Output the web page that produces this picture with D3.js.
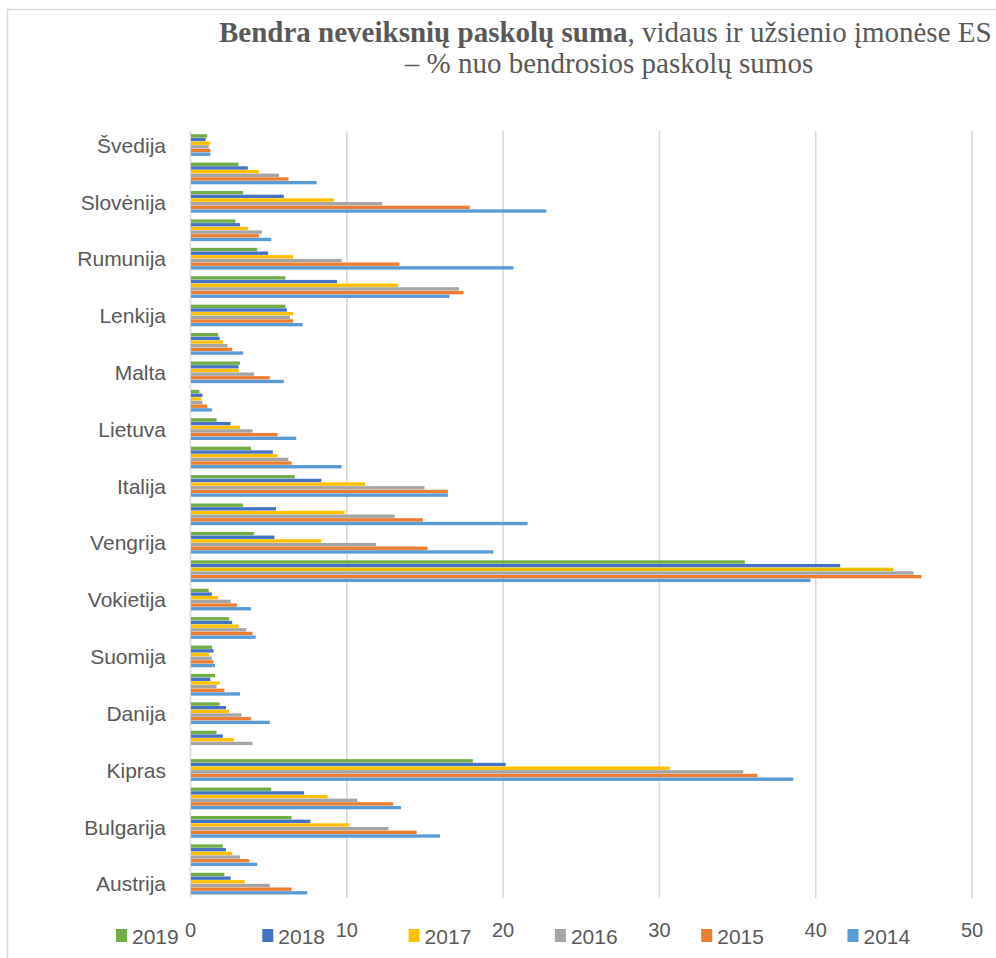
<!DOCTYPE html>
<html>
<head>
<meta charset="utf-8">
<script src="https://cdn.jsdelivr.net/npm/d3@7"></script>
<style>
  html, body { margin: 0; padding: 0; background: #ffffff; overflow: hidden; }
  svg { display: block; }
</style>
</head>
<body>
<svg id="chart" width="996" height="958"></svg>
<script>
// Countries, listed bottom to top
const countries = ["Austrija","Belgija","Bulgarija","Kroatija","Kipras","Čekija","Danija","Estija","Suomija","Prancūzija","Vokietija","Graikija","Vengrija","Airija","Italija","Latvija","Lietuva","Liuksemburgas","Malta","Nyderlandai","Lenkija","Portugalija","Rumunija","Slovakija","Slovėnija","Ispanija","Švedija"];

// Non-performing loans, % of total loans, per year
const y2019 = [2.2, 2.1, 6.5, 5.2, 18.1, 1.7, 1.9, 1.6, 1.4, 2.5, 1.2, 35.5, 4.1, 3.4, 6.7, 3.9, 1.7, 0.6, 3.2, 1.8, 6.1, 6.1, 4.3, 2.9, 3.4, 3.1, 1.1];
const y2018 = [2.6, 2.3, 7.7, 7.3, 20.2, 2.1, 2.3, 1.3, 1.5, 2.7, 1.4, 41.6, 5.4, 5.5, 8.4, 5.3, 2.6, 0.8, 3.1, 1.9, 6.2, 9.4, 5.0, 3.2, 6.0, 3.7, 1.0];
const y2017 = [3.5, 2.7, 10.2, 8.8, 30.7, 2.8, 2.5, 1.9, 1.2, 3.1, 1.8, 45.0, 8.4, 9.9, 11.2, 5.6, 3.2, 0.7, 3.1, 2.1, 6.6, 13.3, 6.6, 3.7, 9.2, 4.4, 1.3];
const y2016 = [5.1, 3.2, 12.7, 10.7, 35.4, 4.0, 3.3, 1.7, 1.4, 3.6, 2.6, 46.3, 11.9, 13.1, 15.0, 6.3, 4.0, 0.8, 4.1, 2.4, 6.4, 17.2, 9.7, 4.6, 12.3, 5.7, 1.2];
const y2015 = [6.5, 3.8, 14.5, 13.0, 36.3, null, 3.9, 2.2, 1.5, 4.0, 3.0, 46.8, 15.2, 14.9, 16.5, 6.5, 5.6, 1.1, 5.1, 2.7, 6.6, 17.5, 13.4, 4.4, 17.9, 6.3, 1.3];
const y2014 = [7.5, 4.3, 16.0, 13.5, 38.6, null, 5.1, 3.2, 1.6, 4.2, 3.9, 39.7, 19.4, 21.6, 16.5, 9.7, 6.8, 1.4, 6.0, 3.4, 7.2, 16.6, 20.7, 5.2, 22.8, 8.1, 1.3];

const years = ["2019", "2018", "2017", "2016", "2015", "2014"];
const seriesValues = [y2019, y2018, y2017, y2016, y2015, y2014];
const seriesColors = ["#70AD47", "#4472C4", "#FFC000", "#A5A5A5", "#ED7D31", "#5B9BD5"];
const xTicks = [0, 10, 20, 30, 40, 50];

const titleBold = "Bendra neveiksnių paskolų suma";
const titleRest = ", vidaus ir užsienio įmonėse ES";
const titleLine2 = "– % nuo bendrosios paskolų sumos";

const svg = d3.select("#chart");
const textColor = "#595959";
const sans = "'Liberation Sans', Arial, sans-serif";
const serif = "'Liberation Serif', 'Times New Roman', serif";

// Chart area border
svg.append("rect")
  .attr("x", 7.5).attr("y", 9.5)
  .attr("width", 1200).attr("height", 1200)
  .attr("fill", "none")
  .attr("stroke", "#d9d9d9")
  .attr("stroke-width", 1.5);

// Title
const t1 = svg.append("text")
  .attr("x", 219).attr("y", 42)
  .attr("font-family", serif).attr("font-size", 29)
  .attr("fill", textColor);
t1.append("tspan").attr("font-weight", "bold").text(titleBold);
t1.append("tspan").text(titleRest);

svg.append("text")
  .attr("x", 609).attr("y", 73)
  .attr("text-anchor", "middle")
  .attr("font-family", serif).attr("font-size", 29)
  .attr("fill", textColor)
  .text(titleLine2);

// Plot area
const plot = { left: 190, right: 971.5, top: 131, bottom: 898 };

const x = d3.scaleLinear().domain([0, 50]).range([plot.left, plot.right]);

// Top of the plot shows the last country
const y = d3.scaleBand()
  .domain(countries.slice().reverse())
  .range([plot.top, plot.bottom])
  .paddingInner(0.225)
  .paddingOuter(0.1125);

const ySeries = d3.scaleBand()
  .domain(years)
  .range([0, y.bandwidth()])
  .padding(0);

// Gridlines
const grid = svg.append("g")
  .attr("transform", `translate(0,${plot.bottom})`)
  .call(d3.axisBottom(x).tickValues(xTicks).tickSize(-(plot.bottom - plot.top)).tickFormat(""));
grid.select(".domain").remove();
grid.selectAll(".tick line")
  .attr("stroke", "#d9d9d9")
  .attr("stroke-width", 1.6);

// Bars
const rows = countries.map((c, i) => ({
  country: c,
  values: years.map((yr, s) => ({ year: yr, value: seriesValues[s][i], color: seriesColors[s] }))
}));

const groups = svg.append("g").selectAll("g")
  .data(rows)
  .join("g")
  .attr("transform", d => `translate(0,${y(d.country)})`);

groups.selectAll("rect")
  .data(d => d.values.filter(v => v.value != null))
  .join("rect")
  .attr("x", x(0) + 1)
  .attr("y", d => ySeries(d.year))
  .attr("width", d => Math.max(0, x(d.value) - x(0) - 1))
  .attr("height", ySeries.bandwidth() - 0.3)
  .attr("fill", d => d.color);

// Category labels (every second country shown)
const yAxis = svg.append("g")
  .attr("transform", `translate(${plot.left - 24},0)`)
  .call(d3.axisLeft(y).tickSize(0).tickPadding(0)
    .tickFormat((d, i) => (i % 2 === 0 ? d : "")));
yAxis.select(".domain").remove();
yAxis.selectAll("text")
  .attr("font-family", sans)
  .attr("font-size", 21)
  .attr("fill", textColor)
  .attr("dy", "0.36em");

// Value axis labels
const xAxis = svg.append("g")
  .attr("transform", `translate(0,${plot.bottom})`)
  .call(d3.axisBottom(x).tickValues(xTicks).tickSize(0).tickPadding(0));
xAxis.select(".domain").remove();
xAxis.selectAll("text")
  .attr("font-family", sans)
  .attr("font-size", 20)
  .attr("fill", textColor)
  .attr("y", 39)
  .attr("dy", 0);

// Legend
const legend = svg.append("g")
  .selectAll("g")
  .data(years)
  .join("g")
  .attr("transform", (d, i) => `translate(${116 + i * 146.3},0)`);
legend.append("rect")
  .attr("x", 0).attr("y", 929)
  .attr("width", 11).attr("height", 13)
  .attr("fill", (d, i) => seriesColors[i]);
legend.append("text")
  .attr("x", 16).attr("y", 944)
  .attr("font-family", sans)
  .attr("font-size", 21)
  .attr("fill", textColor)
  .text(d => d);
</script>
</body>
</html>
